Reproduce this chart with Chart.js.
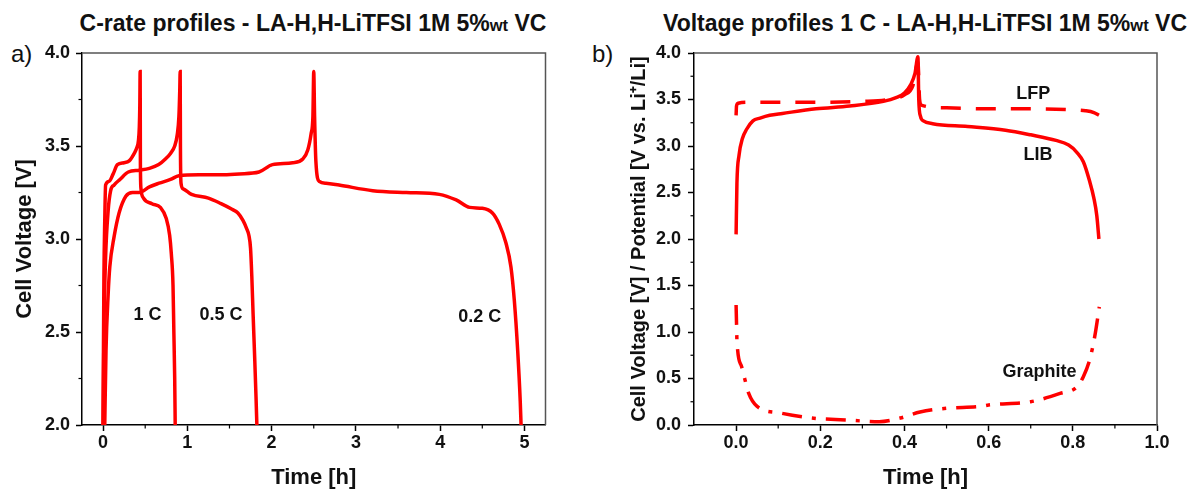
<!DOCTYPE html>
<html>
<head>
<meta charset="utf-8">
<script src="https://cdn.jsdelivr.net/npm/chart.js@4.4.1/dist/chart.umd.min.js"></script>
<style>
  body { margin: 0; background: #fff; width: 1192px; height: 493px; position: relative; overflow: hidden;
         font-family: 'Liberation Sans', Arial, sans-serif; color: #111; }
  .panel { position: absolute; top: 0; width: 596px; height: 493px; }
  .title { position: absolute; top: 12px; font-weight: bold; font-size: 23px; line-height: 23px;
           white-space: nowrap; transform: translateX(-50%); }
  .title small { font-size: 0.72em; }
  .tag { position: absolute; top: 42px; font-size: 24px; line-height: 24px; }
</style>
</head>
<body>
<div class="title" style="left:313px">C-rate profiles - LA-H,H-LiTFSI 1M 5%<small>wt</small> VC</div>
<div class="title" style="left:925px">Voltage profiles 1 C - LA-H,H-LiTFSI 1M 5%<small>wt</small> VC</div>
<div class="tag" style="left:11px">a)</div>
<div class="tag" style="left:592px">b)</div>
<canvas id="chartA" class="panel" style="left:0" width="596" height="493"></canvas>
<canvas id="chartB" class="panel" style="left:596px" width="596" height="493"></canvas>

<script>
// 🔹 DATA - panel a) (C-rate profiles)
const c1_x = [0.000, 0.005, 0.010, 0.020, 0.030, 0.070, 0.120, 0.170, 0.250, 0.310, 0.370, 0.400, 0.420, 0.430, 0.436, 0.440,
              0.443, 0.450, 0.480, 0.580, 0.680, 0.750, 0.790, 0.810, 0.830, 0.840, 0.850, 0.856];
const c1_y = [2.00, 2.45, 2.80, 3.10, 3.29, 3.31, 3.35, 3.40, 3.41, 3.42, 3.46, 3.49, 3.53, 3.60, 3.72, 3.90,
              3.40, 3.27, 3.22, 3.19, 3.17, 3.11, 3.02, 2.92, 2.75, 2.50, 2.25, 2.00];

const c05_x = [0.000, 0.010, 0.030, 0.060, 0.090, 0.130, 0.200, 0.300, 0.430, 0.550, 0.660, 0.740, 0.800, 0.850, 0.880, 0.900, 0.910, 0.915,
               0.918, 0.925, 0.950, 1.050, 1.250, 1.400, 1.530, 1.600, 1.660, 1.700, 1.730, 1.750, 1.765, 1.780, 1.800, 1.815, 1.825];
const c05_y = [2.00, 2.50, 2.90, 3.15, 3.26, 3.29, 3.32, 3.36, 3.37, 3.38, 3.40, 3.43, 3.46, 3.50, 3.56, 3.66, 3.80, 3.90,
               3.50, 3.30, 3.27, 3.24, 3.22, 3.19, 3.16, 3.14, 3.10, 3.06, 3.02, 2.95, 2.80, 2.60, 2.35, 2.15, 2.00];

const c02_x = [0.020, 0.035, 0.060, 0.080, 0.130, 0.190, 0.270, 0.350, 0.430, 0.550, 0.665, 0.800, 0.900, 1.140, 1.400, 1.615, 1.850,
               2.010, 2.250, 2.370, 2.430, 2.470, 2.490, 2.500,
               2.510, 2.525, 2.565, 2.645, 2.800, 3.200, 3.600, 3.990, 4.190, 4.350, 4.500, 4.620, 4.700, 4.780, 4.840, 4.880,
               4.920, 4.950, 4.960];
const c02_y = [2.00, 2.40, 2.70, 2.85, 3.01, 3.14, 3.23, 3.25, 3.25, 3.28, 3.30, 3.32, 3.34, 3.345, 3.345, 3.35, 3.36,
               3.40, 3.41, 3.43, 3.48, 3.57, 3.66, 3.90,
               3.66, 3.42, 3.31, 3.30, 3.29, 3.26, 3.25, 3.24, 3.21, 3.17, 3.165, 3.14, 3.08, 2.98, 2.85, 2.67,
               2.40, 2.13, 2.00];

const aTicksX = [0, 1, 2, 3, 4, 5];
const aMinorX = [0.5, 1.5, 2.5, 3.5, 4.5];
const aTicksY = [2.0, 2.5, 3.0, 3.5, 4.0];
const aMinorY = [2.25, 2.75, 3.25, 3.75];

// 🔹 DATA - panel b) (1 C voltage profiles)
const lib_x = [0.000, 0.002, 0.007, 0.015, 0.025, 0.040, 0.057, 0.080, 0.110, 0.190, 0.270, 0.350, 0.380, 0.400, 0.415, 0.425, 0.432,
               0.434, 0.438, 0.445, 0.467, 0.550, 0.640, 0.700, 0.760, 0.790, 0.810, 0.825, 0.840, 0.850, 0.857, 0.862];
const lib_y = [2.05, 2.60, 2.90, 3.08, 3.18, 3.27, 3.30, 3.33, 3.35, 3.40, 3.43, 3.48, 3.52, 3.57, 3.66, 3.78, 3.96,
               3.50, 3.32, 3.27, 3.24, 3.21, 3.17, 3.12, 3.06, 3.01, 2.93, 2.83, 2.62, 2.44, 2.25, 2.00];

const lfp_x = [0.000, 0.001, 0.005, 0.030, 0.100, 0.200, 0.300, 0.360, 0.400, 0.420, 0.432,
               0.436, 0.440, 0.500, 0.600, 0.700, 0.800, 0.830, 0.850, 0.862];
const lfp_y = [3.33, 3.43, 3.46, 3.47, 3.47, 3.47, 3.48, 3.50, 3.55, 3.65, 3.90,
               3.50, 3.44, 3.41, 3.40, 3.40, 3.39, 3.38, 3.36, 3.33];

const gra_x = [0.000, 0.001, 0.002, 0.013, 0.030, 0.050, 0.104, 0.180, 0.260, 0.340, 0.390, 0.437, 0.500, 0.580,
               0.600, 0.700, 0.770, 0.810, 0.825, 0.840, 0.852, 0.863];
const gra_y = [1.29, 1.10, 0.91, 0.63, 0.34, 0.20, 0.13, 0.075, 0.054, 0.036, 0.075, 0.14, 0.18, 0.20,
               0.215, 0.25, 0.34, 0.41, 0.52, 0.70, 0.95, 1.27];

const bTicksX = [0.0, 0.2, 0.4, 0.6, 0.8, 1.0];
const bMinorX = [0.1, 0.3, 0.5, 0.7, 0.9];
const bTicksY = [0.0, 0.5, 1.0, 1.5, 2.0, 2.5, 3.0, 3.5, 4.0];
const bMinorY = [0.25, 0.75, 1.25, 1.75, 2.25, 2.75, 3.25, 3.75];

// 🔹 STYLE
const RED = "#ff0000";
const FONT = "'Liberation Sans', Arial, sans-serif";
Chart.defaults.font.family = FONT;
Chart.defaults.color = "#111";

const pts = (xs, ys) => xs.map((x, i) => ({ x: x, y: ys[i] }));

function curve(xs, ys, dash) {
  return {
    data: pts(xs, ys),
    borderColor: RED,
    borderWidth: 3.5,
    borderDash: dash || [],
    pointRadius: 0,
    showLine: true,
    fill: false,
    cubicInterpolationMode: "monotone"
  };
}

// 🔥 top/right frame, minor ticks, curve labels
const framePlugin = {
  id: "frame",
  afterDraw(chart, args, opts) {
    const { ctx, chartArea: a } = chart;
    const x = chart.scales.x, y = chart.scales.y;
    ctx.save();
    ctx.strokeStyle = "#555";
    ctx.lineWidth = 1.5;
    ctx.beginPath();
    ctx.moveTo(a.left, a.top);
    ctx.lineTo(a.right, a.top);
    ctx.lineTo(a.right, a.bottom);
    ctx.stroke();

    ctx.strokeStyle = "#000";
    ctx.lineWidth = 1.2;
    opts.minorX.forEach(v => {
      const px = x.getPixelForValue(v);
      ctx.beginPath(); ctx.moveTo(px, a.bottom); ctx.lineTo(px, a.bottom + 3.5); ctx.stroke();
    });
    opts.minorY.forEach(v => {
      const py = y.getPixelForValue(v);
      ctx.beginPath(); ctx.moveTo(a.left, py); ctx.lineTo(a.left - 3.5, py); ctx.stroke();
    });

    ctx.fillStyle = "#111";
    ctx.font = "bold 18px " + FONT;
    ctx.textAlign = "center";
    ctx.textBaseline = "middle";
    opts.labels.forEach(l => ctx.fillText(l.text, x.getPixelForValue(l.x), y.getPixelForValue(l.y)));
    ctx.restore();
  }
};

function makeChart(id, datasets, cfg) {
  const tickFont = { size: 18, weight: "bold" };
  const tickGrid = { display: true, drawOnChartArea: false, drawTicks: true, tickLength: 6, tickWidth: 1.5, tickColor: "#000" };
  return new Chart(document.getElementById(id), {
    type: "scatter",
    data: { datasets: datasets },
    plugins: [framePlugin],
    options: {
      responsive: false,
      animation: false,
      devicePixelRatio: 1,
      layout: { padding: { top: 53, right: cfg.padRight, bottom: 0, left: 0 } },
      plugins: {
        legend: { display: false },
        tooltip: { enabled: false },
        frame: { minorX: cfg.minorX, minorY: cfg.minorY, labels: cfg.labels }
      },
      scales: {
        x: {
          type: "linear",
          min: cfg.xMin, max: cfg.xMax,
          afterFit: s => { s.height = 68; },
          afterBuildTicks: s => { s.ticks = cfg.ticksX.map(v => ({ value: v })); },
          ticks: { font: tickFont, color: "#111", padding: 1, maxRotation: 0, callback: cfg.fmtX },
          grid: tickGrid,
          border: { display: true, color: "#000", width: 1.5 },
          title: { display: true, text: "Time [h]", font: { size: 22, weight: "bold" }, color: "#111", padding: { top: 0, bottom: 2 } }
        },
        y: {
          type: "linear",
          min: cfg.yMin, max: cfg.yMax,
          afterFit: s => { s.width = cfg.yWidth; },
          afterBuildTicks: s => { s.ticks = cfg.ticksY.map(v => ({ value: v })); },
          ticks: { font: tickFont, color: "#111", padding: cfg.yPad, callback: v => v.toFixed(1) },
          grid: tickGrid,
          border: { display: true, color: "#000", width: 1.5 },
          title: { display: true, text: cfg.yTitle, font: { size: cfg.yTitleSize, weight: "bold" }, color: "#111",
                   padding: { top: cfg.yTitlePad, bottom: 0 } }
        }
      }
    }
  });
}

// Chart a)
makeChart("chartA", [
  curve(c1_x, c1_y),
  curve(c05_x, c05_y),
  curve(c02_x, c02_y)
], {
  xMin: -0.25, xMax: 5.25, yMin: 2.0, yMax: 4.0,
  ticksX: aTicksX, ticksY: aTicksY, minorX: aMinorX, minorY: aMinorY,
  fmtX: v => String(v),
  padRight: 50.5, yWidth: 82, yPad: 6,
  yTitle: "Cell Voltage [V]", yTitleSize: 22, yTitlePad: 12,
  labels: [
    { text: "1 C", x: 0.526, y: 2.59 },
    { text: "0.5 C", x: 1.40, y: 2.59 },
    { text: "0.2 C", x: 4.47, y: 2.58 }
  ]
});

// Chart b)
makeChart("chartB", [
  curve(lfp_x, lfp_y, [20, 15]),
  curve(gra_x, gra_y, [20, 10, 4, 10]),
  curve(lib_x, lib_y)
], {
  xMin: -0.1, xMax: 1.0, yMin: 0.0, yMax: 4.0,
  ticksX: bTicksX, ticksY: bTicksY, minorX: bMinorX, minorY: bMinorY,
  fmtX: v => v.toFixed(1),
  padRight: 35, yWidth: 98, yPad: 7,
  yTitle: "Cell Voltage [V] / Potential [V vs. Li\u207A/Li]", yTitleSize: 20, yTitlePad: 31,
  labels: [
    { text: "LFP", x: 0.706, y: 3.56 },
    { text: "LIB", x: 0.717, y: 2.90 },
    { text: "Graphite", x: 0.721, y: 0.57 }
  ]
});
</script>
</body>
</html>
